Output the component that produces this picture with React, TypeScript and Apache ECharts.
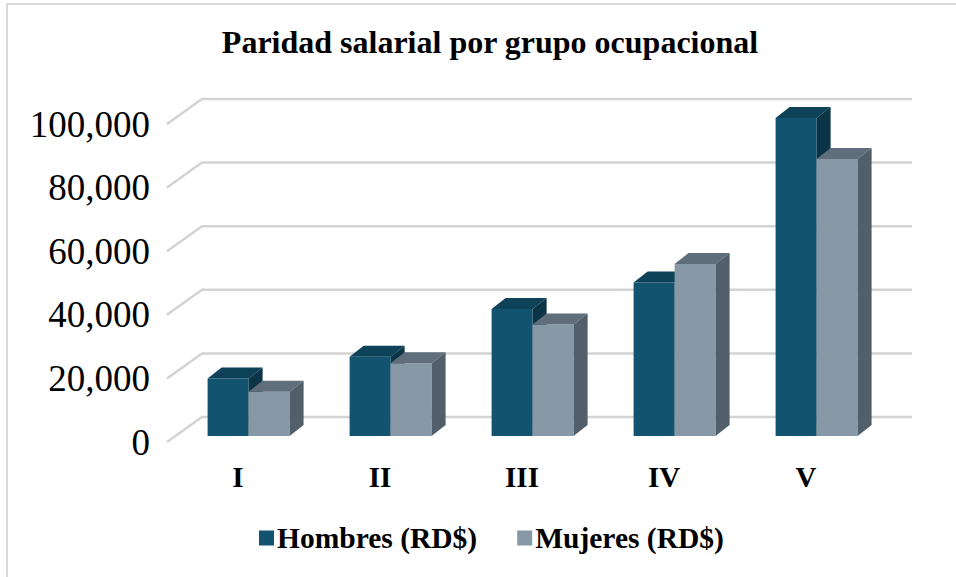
import React, { useEffect, useRef } from "react";
import * as echarts from "echarts";

const categories = ["I", "II", "III", "IV", "V"];
const hombres = [18100, 24900, 39900, 48300, 100000];
const mujeres = [13900, 22900, 35100, 54100, 87100];
const yTicks = [0, 20000, 40000, 60000, 80000, 100000];
const seriesNames = ["Hombres (RD$)", "Mujeres (RD$)"];

const FONT = "'Liberation Serif', 'Times New Roman', serif";
const DEPTH_DX = 35;
const DEPTH_DY = -25;
const BAR_OFF_DX = 8;
const BAR_OFF_DY = -6;
const BAR_W = 41;
const BAR_DX = 14;
const BAR_DY = -11;

const palettes = [
  { front: "#125470", top: "#0e4258", side: "#0c3447" },
  { front: "#8798a7", top: "#5f6e7a", side: "#525f6a" },
];

function barSeries(name: string, values: number[], idx: number) {
  const pal = palettes[idx];
  return {
    name,
    type: "custom",
    clip: false,
    itemStyle: { color: pal.front },
    encode: { x: 0, y: 1 },
    data: values.map((v, i) => [i, v]),
    renderItem: (params: any, api: any) => {
      const i = api.value(0);
      const v = api.value(1);
      const top = api.coord([i, v]);
      const base = api.coord([i, 0]);
      const cell = api.size([1, 0])[0];
      const cx = top[0];
      const x0 = cx - cell / 2 + 32.6 + BAR_OFF_DX + idx * BAR_W;
      const yt = top[1] + BAR_OFF_DY;
      const yb = base[1] + BAR_OFF_DY;
      const x1 = x0 + BAR_W;
      return {
        type: "group",
        children: [
          {
            type: "rect",
            shape: { x: x0, y: yt, width: BAR_W, height: yb - yt },
            style: { fill: pal.front },
          },
          {
            type: "polygon",
            shape: {
              points: [
                [x0, yt],
                [x1, yt],
                [x1 + BAR_DX, yt + BAR_DY],
                [x0 + BAR_DX, yt + BAR_DY],
              ],
            },
            style: { fill: pal.top },
          },
          {
            type: "polygon",
            shape: {
              points: [
                [x1, yt],
                [x1 + BAR_DX, yt + BAR_DY],
                [x1 + BAR_DX, yb + BAR_DY],
                [x1, yb],
              ],
            },
            style: { fill: pal.side },
          },
        ],
      };
    },
  };
}

export default function App() {
  const ref = useRef<HTMLDivElement>(null);
  useEffect(() => {
    if (!ref.current) return;
    const chart = echarts.init(ref.current, undefined, { renderer: "svg" });
    chart.setOption({
      animation: false,
      backgroundColor: "#ffffff",
      title: {
        text: "Paridad salarial por grupo ocupacional",
        left: 485,
        textAlign: "center",
        top: 21,
        textStyle: { fontFamily: FONT, fontSize: 32, fontWeight: "bold", color: "#000" },
      },
      graphic: [
        {
          type: "rect",
          shape: { x: 7, y: 4, width: 1200, height: 1200 },
          style: { fill: "none", stroke: "#d9d9d9", lineWidth: 2 },
          silent: true,
        },
      ],
      legend: {
        bottom: 19,
        left: 254,
        itemWidth: 15,
        itemHeight: 15,
        itemGap: 40,
        icon: "rect",
        data: seriesNames,
        textStyle: { fontFamily: FONT, fontSize: 29.5, fontWeight: "bold", color: "#000", padding: [0, 0, 0, -2] },
      },
      grid: { left: 167, right: 79, top: 124, bottom: 135 },
      xAxis: {
        type: "category",
        data: categories,
        axisLine: { show: false },
        axisTick: { show: false },
        splitLine: { show: false },
        axisLabel: { fontFamily: FONT, fontSize: 29, fontWeight: "bold", color: "#000", margin: 20 },
      },
      yAxis: {
        type: "value",
        min: 0,
        max: 100000,
        interval: 20000,
        axisLine: { show: false },
        axisTick: { show: false },
        splitLine: { show: false },
        axisLabel: {
          fontFamily: FONT,
          fontSize: 37,
          color: "#000",
          margin: 17,
          formatter: (v: number) => v.toLocaleString("en-US"),
        },
      },
      series: [
        {
          name: "grid",
          type: "custom",
          clip: false,
          silent: true,
          encode: { x: 0, y: 1 },
          data: yTicks.map((v) => [0, v]),
          renderItem: (params: any, api: any) => {
            const cs = params.coordSys;
            const y = api.coord([0, api.value(1)])[1];
            return {
              type: "polyline",
              shape: {
                points: [
                  [cs.x, y],
                  [cs.x + DEPTH_DX, y + DEPTH_DY],
                  [cs.x + cs.width + DEPTH_DX, y + DEPTH_DY],
                ],
              },
              style: { stroke: "#d3d3d3", lineWidth: 2.5, fill: "none" },
            };
          },
        },
        barSeries(seriesNames[0], hombres, 0),
        barSeries(seriesNames[1], mujeres, 1),
      ],
    });
    return () => chart.dispose();
  }, []);
  return <div ref={ref} style={{ position: "fixed", left: 0, top: 0, width: 956, height: 577 }} />;
}
